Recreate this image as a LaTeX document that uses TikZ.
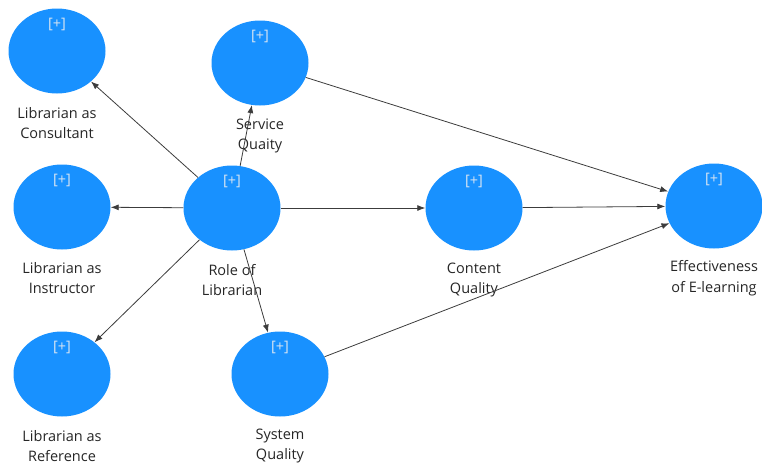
\documentclass[tikz,border=0pt]{standalone}
\usepackage{fontspec}
\setmainfont{Open Sans}
\usepackage{tikz}
\usetikzlibrary{shapes.geometric,arrows.meta,calc}
\definecolor{lvblue}{RGB}{24,145,255}
\definecolor{plusgray}{RGB}{215,228,242}
\definecolor{pathgray}{RGB}{60,60,60}

\begin{document}
\begin{tikzpicture}[x=1pt,y=-1pt]
    % `construct' is used for the blue latent variables.
    % `plus' is the [+] marker, `caption' the name under each one.
    \tikzstyle{construct} = [ellipse,fill=lvblue,minimum width=97pt,minimum height=85pt,inner sep=0pt]
    \tikzstyle{plus} = [text=plusgray,font=\fontsize{14.5}{14.5}\selectfont,inner sep=0pt]
    \tikzstyle{caption} = [align=center,font=\fontsize{14.5}{20.5}\selectfont,text=black!85,inner sep=0pt]
    \tikzstyle{path} = [draw=pathgray,line width=0.8pt,-{Latex[length=8pt,width=6pt]}]
    %
    \useasboundingbox (0,0) rectangle (762,466);
    \node[construct] (cons) at (57,51) {};
    \node[construct] (serv) at (260,63) {};
    \node[construct] (inst) at (62,207) {};
    \node[construct] (role) at (232,208) {};
    \node[construct] (cont) at (474,208) {};
    \node[construct] (eff) at (714,206) {};
    \node[construct] (ref) at (62,374) {};
    \node[construct] (sys) at (280,374) {};
    %
    \foreach \v in {cons,serv,inst,role,cont,eff,ref,sys}
      \node[plus] (\v p) at ($(\v.north)+(0,16)$) {[+]};
    %
    \node[caption] (consL) at ($(cons.center)+(0,72)$) {Librarian as\\Consultant};
    \node[caption] (servL) at ($(serv.center)+(0,73)$) {Service\\Quaity};
    \node[caption] (instL) at ($(inst.center)+(0,71)$) {Librarian as\\Instructor};
    \node[caption] (roleL) at ($(role.center)+(0,72)$) {Role of\\Librarian};
    \node[caption] (contL) at ($(cont.center)+(0,72)$) {Content\\Quality};
    \node[caption] (effL) at ($(eff.center)+(0,72)$) {Effectiveness\\of E-learning};
    \node[caption] (refL) at ($(ref.center)+(0,72)$) {Librarian as\\Reference};
    \node[caption] (sysL) at ($(sys.center)+(0,72)$) {System\\Quality};
    % Draw paths.
    \foreach \t in {cons,serv,inst,cont,ref,sys}
      \draw[path] (role) -- (\t);
    \foreach \s in {serv,cont,sys}
      \draw[path] (\s) -- (eff);
\end{tikzpicture}
\end{document}
